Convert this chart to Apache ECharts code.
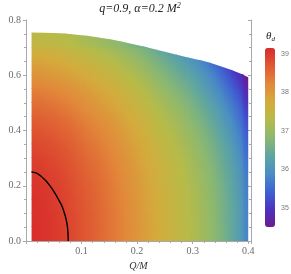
<!DOCTYPE html>
<html><head><meta charset="utf-8">
<script src="https://cdn.jsdelivr.net/npm/echarts@6/dist/echarts.min.js"></script>
<style>html,body{margin:0;padding:0;background:#fff}#c{width:291px;height:274px}</style>
</head><body><div id="c"></div>
<script>
// Q/M nodes (column centres) and a/M nodes (row centres)
const qNodes = [0.02,0.04,0.06,0.08,0.10,0.12,0.14,0.16,0.18,0.20,0.22,0.24,0.26,0.28,0.30,0.32,0.34,0.36,0.38,0.40];
const aNodes = [0.025,0.075,0.125,0.175,0.225,0.275,0.325,0.375,0.425,0.475,0.525,0.575,0.625,0.675,0.725];
const qRange = [0.01, 0.40];
// theta_d read from the colour field, one row per a/M node
const theta = [
 [39.10,39.05,38.98,38.88,38.76,38.64,38.51,38.37,38.22,38.06,37.89,37.72,37.56,37.40,37.23,37.04,36.82,36.56,36.24,35.85],
 [39.10,39.05,38.98,38.88,38.76,38.64,38.51,38.37,38.22,38.06,37.89,37.72,37.56,37.40,37.23,37.04,36.82,36.55,36.23,35.84],
 [39.08,39.03,38.96,38.86,38.74,38.62,38.49,38.35,38.20,38.04,37.87,37.70,37.54,37.38,37.21,37.02,36.80,36.54,36.22,35.83],
 [39.06,39.01,38.94,38.84,38.72,38.60,38.47,38.33,38.18,38.02,37.85,37.68,37.52,37.36,37.19,37.00,36.78,36.51,36.19,35.80],
 [39.02,38.97,38.90,38.80,38.68,38.57,38.44,38.30,38.15,37.99,37.82,37.65,37.49,37.33,37.15,36.96,36.73,36.47,36.14,35.75],
 [38.97,38.92,38.85,38.75,38.63,38.52,38.39,38.25,38.10,37.94,37.77,37.60,37.44,37.28,37.10,36.90,36.68,36.40,36.08,35.68],
 [38.89,38.84,38.78,38.68,38.56,38.45,38.32,38.18,38.04,37.88,37.71,37.54,37.37,37.21,37.03,36.83,36.60,36.32,35.99,35.58],
 [38.80,38.75,38.68,38.59,38.47,38.36,38.24,38.10,37.95,37.80,37.63,37.45,37.29,37.12,36.94,36.74,36.50,36.21,35.87,35.46],
 [38.68,38.64,38.57,38.48,38.37,38.25,38.13,38.00,37.85,37.70,37.53,37.35,37.19,37.02,36.83,36.62,36.37,36.08,35.73,35.32],
 [38.54,38.50,38.43,38.34,38.23,38.12,38.00,37.87,37.73,37.57,37.40,37.23,37.06,36.89,36.70,36.48,36.22,35.92,35.56,35.14],
 [38.38,38.33,38.27,38.18,38.08,37.97,37.85,37.73,37.58,37.43,37.26,37.08,36.91,36.74,36.54,36.31,36.04,35.73,35.36,34.92],
 [38.19,38.14,38.08,38.00,37.89,37.79,37.68,37.55,37.41,37.26,37.09,36.91,36.74,36.56,36.36,36.12,35.84,35.50,35.12,34.68],
 [37.97,37.92,37.87,37.78,37.68,37.59,37.48,37.36,37.22,37.07,36.90,36.72,36.54,36.35,36.15,35.90,35.60,35.25,34.85,34.50],
 [37.71,37.68,37.62,37.54,37.45,37.35,37.25,37.13,37.00,36.85,36.68,36.50,36.31,36.12,35.91,35.64,35.33,34.96,34.54,34.50],
 [37.43,37.39,37.34,37.27,37.18,37.09,36.99,36.88,36.75,36.60,36.43,36.25,36.06,35.86,35.64,35.36,35.02,34.63,34.50,34.50]
];
// upper edge of the shaded region
const boundaryQ = [0.01,0.03,0.05,0.07,0.09,0.11,0.13,0.15,0.17,0.19,0.21,0.23,0.25,0.27,0.29,0.31,0.33,0.35,0.37,0.39,0.40];
const boundaryA = [0.755,0.754,0.753,0.751,0.747,0.743,0.737,0.731,0.723,0.714,0.705,0.695,0.685,0.675,0.665,0.656,0.646,0.633,0.619,0.603,0.593];
// black contour
const curveQ = [0.010,0.020,0.034,0.045,0.052,0.058,0.064,0.068,0.071,0.074,0.0755,0.076];
const curveA = [0.250,0.245,0.222,0.195,0.173,0.152,0.130,0.108,0.088,0.060,0.030,0.000];
const colorTicks = [35,36,37,38,39];
const thetaRange = [34.5, 39.16];
const palette = ['#6b1d8e','#4b33c0','#3f63d2','#4a8ec4','#5fa6a0','#8bb870','#b6bb48','#d4ab3c','#e2883a','#df5a32','#d82a2a'];

const nq = qNodes.length, na = aNodes.length;
function bnd(q){
  for (let k=0;k<boundaryQ.length-1;k++){
    if (q<=boundaryQ[k+1]+1e-12){
      const t=(q-boundaryQ[k])/(boundaryQ[k+1]-boundaryQ[k]);
      return boundaryA[k]+t*(boundaryA[k+1]-boundaryA[k]);
    }
  }
  return boundaryA[boundaryA.length-1];
}
function clipTop(poly, q0, b0, q1, b1){
  const f = p => (b0 + (b1-b0)*(p[0]-q0)/(q1-q0)) - p[1];
  const out=[];
  for (let k=0;k<poly.length;k++){
    const P=poly[k], R=poly[(k+1)%poly.length];
    const fp=f(P), fr=f(R);
    if (fp>=0) out.push(P);
    if ((fp>=0)!==(fr>=0)){
      const t=fp/(fp-fr);
      out.push([P[0]+t*(R[0]-P[0]), P[1]+t*(R[1]-P[1])]);
    }
  }
  return out;
}
const cl = (v,lo,hi)=>Math.max(lo,Math.min(hi,v));
const nodeVal = (i,j)=>theta[cl(j,0,na-1)][cl(i,0,nq-1)];
const cornerVal = (ci,cj)=>(nodeVal(ci-1,cj-1)+nodeVal(ci,cj-1)+nodeVal(ci-1,cj)+nodeVal(ci,cj))/4;
const toColor = v => echarts.color.lerp(cl((v-thetaRange[0])/(thetaRange[1]-thetaRange[0]),0,1), palette);

const cells = [];
for (let j=0;j<na;j++) for (let i=0;i<nq;i++) cells.push([qNodes[i],aNodes[j],theta[j][i],i,j]);

const serif = 'Liberation Serif';
const axisCol = '#a8a8a8';
const lblCol = '#6a6a6a';
const fmt1 = v => (v>1e-9 && Math.abs(v*10-Math.round(v*10))<1e-6) ? v.toFixed(1) : '';
const fmtY = v => (Math.abs(v*5-Math.round(v*5))<1e-6) ? v.toFixed(1) : '';

const chart = echarts.init(document.getElementById('c'), null, {renderer:'canvas'});
chart.setOption({
  animation:false,
  grid:[{left:26, top:20, width:225, height:221, outerBoundsMode:'none', containLabel:false},
        {left:265, top:48, width:10, height:179, outerBoundsMode:'none', containLabel:false}],
  xAxis:[
    {type:'value', gridIndex:0, min:0, max:0.405, interval:0.1, position:'bottom',
     axisLine:{show:true,onZero:false,lineStyle:{color:axisCol,width:1}},
     axisTick:{show:true,inside:false,length:3,lineStyle:{color:axisCol}},
     minorTick:{show:true,splitNumber:5,length:2,lineStyle:{color:axisCol}},
     splitLine:{show:false},
     axisLabel:{formatter:fmt1,color:lblCol,fontFamily:serif,fontSize:10,margin:5},
     name:'Q/M', nameLocation:'middle', nameGap:19,
     nameTextStyle:{fontFamily:serif,fontStyle:'italic',fontSize:10,color:'#333'}},
    {type:'value', gridIndex:0, min:0, max:0.405, interval:0.1, position:'top',
     axisLine:{show:false}, axisTick:{show:true,inside:true,length:3,lineStyle:{color:axisCol}},
     minorTick:{show:true,splitNumber:5,length:2,lineStyle:{color:axisCol}},
     splitLine:{show:false}, axisLabel:{show:false}},
    {type:'value', gridIndex:1, show:false, min:0, max:1}
  ],
  yAxis:[
    {type:'value', gridIndex:0, min:0, max:0.8, interval:0.2, position:'left',
     axisLine:{show:true,onZero:false,lineStyle:{color:axisCol,width:1}},
     axisTick:{show:true,inside:false,length:3,lineStyle:{color:axisCol}},
     minorTick:{show:true,splitNumber:4,length:2,lineStyle:{color:axisCol}},
     splitLine:{show:false},
     axisLabel:{formatter:fmtY,color:lblCol,fontFamily:serif,fontSize:10,margin:5},
     name:'a/M', nameLocation:'middle', nameGap:20, nameRotate:-90,
     nameTextStyle:{fontFamily:serif,fontStyle:'italic',fontSize:7,color:'#333'}},
    {type:'value', gridIndex:0, min:0, max:0.8, interval:0.2, position:'right',
     axisLine:{show:true,onZero:false,lineStyle:{color:axisCol,width:1}},
     axisTick:{show:true,inside:true,length:3,lineStyle:{color:axisCol}},
     minorTick:{show:true,splitNumber:4,length:2,lineStyle:{color:axisCol}},
     splitLine:{show:false}, axisLabel:{show:false}},
    {type:'value', gridIndex:1, min:thetaRange[0], max:thetaRange[1], position:'right',
     axisLine:{show:false}, axisTick:{show:false}, splitLine:{show:false},
     axisLabel:{show:true, customValues:colorTicks, color:'#777', fontFamily:'Liberation Sans', fontSize:7, margin:6}}
  ],
  visualMap:{type:'continuous', seriesIndex:0, dimension:2, min:thetaRange[0], max:thetaRange[1],
    calculable:false, realtime:false, left:265, top:48, itemWidth:10, itemHeight:179, padding:0,
    text:null, showLabel:false, inRange:{color:palette}},
  graphic:[
    {type:'text', x:140, y:2, style:{text:'q=0.9, α=0.2 M{s|2}', textAlign:'center',
      fontFamily:serif, fontStyle:'italic', fontSize:12, fill:'#222',
      rich:{s:{fontFamily:serif,fontStyle:'italic',fontSize:8,verticalAlign:'top',padding:[0,0,6,0],fill:'#222'}}}},
    {type:'text', x:266, y:30, style:{text:'θ{d|d}', fontFamily:serif, fontStyle:'italic', fontSize:11, fill:'#222',
      rich:{d:{fontFamily:serif,fontStyle:'italic',fontSize:7,padding:[6,0,0,0],fill:'#222'}}}}
  ],
  series:[
    {type:'custom', xAxisIndex:0, yAxisIndex:0, data:cells, encode:{x:0,y:1}, clip:false,
     renderItem:function(params, api){
       const i = api.value(3), j = api.value(4);
       const last = i===nq-1;
       const q0 = i===0 ? qRange[0] : (qNodes[i-1]+qNodes[i])/2;
       const q1 = last ? qRange[1] : (qNodes[i]+qNodes[i+1])/2;
       const a0 = j===0 ? 0 : (aNodes[j-1]+aNodes[j])/2;
       const a1r = j===na-1 ? aNodes[j]+0.03 : (aNodes[j]+aNodes[j+1])/2;
       const a1 = j===na-1 ? 10 : a1r + 0.003;
       const q1e = last ? q1 : q1 + 0.0015;
       const b0 = bnd(q0), b1 = bnd(q1e);
       const poly = clipTop([[q0,a0],[q1e,a0],[q1e,a1],[q0,a1]], q0, b0, q1e, b1);
       if (poly.length < 3) return null;
       let fill = api.visual('color');
       if (echarts.color && echarts.color.lerp) {
         const v00=cornerVal(i,j), v10=cornerVal(i+1,j), v01=cornerVal(i,j+1), v11=cornerVal(i+1,j+1);
         const du=((v10+v11)-(v00+v01))/2, da=((v01+v11)-(v00+v10))/2;
         const p0=api.coord([q0,a0]), p1=api.coord([q1,a1r]);
         const W=p1[0]-p0[0], H=p1[1]-p0[1];
         const gX=du/W, gY=da/H, g=Math.hypot(gX,gY);
         const vc=api.value(2);
         if (g>1e-6){
           const cx=(p0[0]+p1[0])/2, cy=(p0[1]+p1[1])/2;
           const t=0.5*Math.hypot(W,H)+2;
           const ux=gX/g, uy=gY/g;
           const stops=[];
           for (let s=0;s<=4;s++){ const f=s/4; stops.push({offset:f, color:toColor(vc - t*g + 2*t*g*f)}); }
           fill = new echarts.graphic.LinearGradient(0,0,0,0,stops,true);
           fill.x=cx-ux*t; fill.y=cy-uy*t; fill.x2=cx+ux*t; fill.y2=cy+uy*t;
         }
       }
       return {type:'polygon', shape:{points:poly.map(p=>api.coord(p))}, style:{fill:fill}};
     }},
    {type:'line', xAxisIndex:0, yAxisIndex:0, data:curveQ.map((q,k)=>[q,curveA[k]]),
     smooth:0.3, showSymbol:false, symbol:'none', lineStyle:{color:'#000',width:1.4}, z:5}
  ]
});
</script></body></html>
